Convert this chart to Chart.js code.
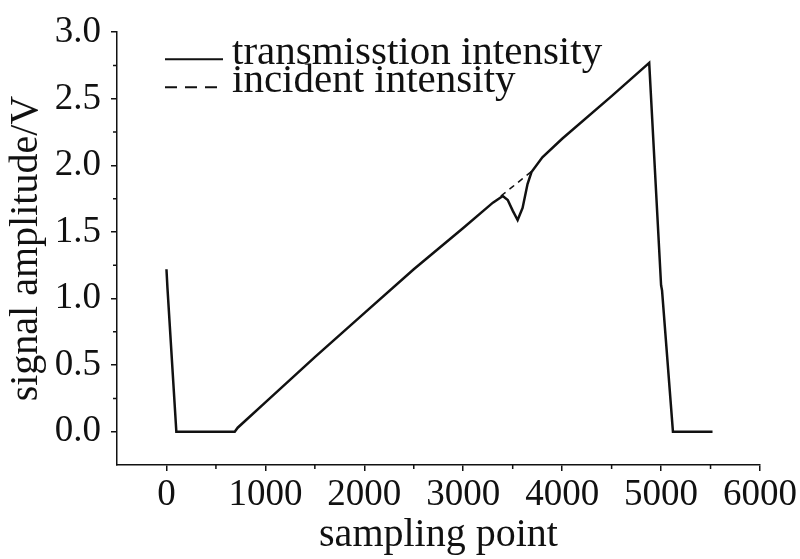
<!DOCTYPE html>
<html>
<head>
<meta charset="utf-8">
<script src="https://cdn.jsdelivr.net/npm/chart.js@4/dist/chart.umd.min.js"></script>
<style>
    html, body { margin: 0; padding: 0; background: #fff; }
    #caixa { width: 800px; height: 559px; }
</style>
</head>
<body>
<div id="caixa"><canvas id="grafico1"></canvas></div>
<script>
// transmission intensity (solid line)
const transX = [0, 10, 100, 690, 720, 1000, 1500, 2000, 2500, 3000, 3300, 3400, 3450, 3500, 3550, 3600, 3650, 3690, 3800, 4000, 4500, 4880, 5000, 5010, 5120, 5520];
const transY = [1.22, 1.08, 0, 0, 0.03, 0.22, 0.56, 0.89, 1.22, 1.53, 1.72, 1.77, 1.74, 1.66, 1.59, 1.68, 1.86, 1.95, 2.06, 2.20, 2.52, 2.77, 1.10, 1.06, 0, 0];
// incident intensity (dashed line, visible only where it departs from the solid one)
const incX = [3380, 3500, 3600, 3700];
const incY = [1.77, 1.84, 1.90, 1.96];

const seriesNames = ['transmisstion intensity', 'incident intensity'];
const xTicks = [0, 1000, 2000, 3000, 4000, 5000, 6000];
const yTicks = [0, 0.5, 1.0, 1.5, 2.0, 2.5, 3.0];
const xMinor = [500, 1500, 2500, 3500, 4500, 5500];
const yMinor = [0.25, 0.75, 1.25, 1.75, 2.25, 2.75];

const serif = "'Liberation Serif', 'Times New Roman', serif";
const ink = '#111';

function pares(xs, ys) {
    return xs.map((x, i) => ({ x: x, y: ys[i] }));
}

// minor ticks and the legend drawn inside the plot
const extras = {
    id: 'extras',
    afterDraw(chart) {
        const ctx = chart.ctx;
        const sx = chart.scales.x, sy = chart.scales.y;
        const area = chart.chartArea;
        ctx.save();
        ctx.strokeStyle = ink;
        ctx.lineWidth = 1.5;
        ctx.beginPath();
        xMinor.forEach(v => {
            const px = sx.getPixelForValue(v);
            ctx.moveTo(px, area.bottom);
            ctx.lineTo(px, area.bottom + 4);
        });
        yMinor.forEach(v => {
            const py = sy.getPixelForValue(v);
            ctx.moveTo(area.left, py);
            ctx.lineTo(area.left - 4, py);
        });
        ctx.stroke();

        // legend
        const x0 = area.left + 48, x1 = x0 + 58;
        const linhas = [area.top + 27, area.top + 55];
        chart.data.datasets.forEach((ds, i) => {
            ctx.strokeStyle = ds.borderColor;
            ctx.lineWidth = 2;
            ctx.setLineDash(i === 1 ? [12, 8] : []);
            ctx.beginPath();
            ctx.moveTo(x0, linhas[i]);
            ctx.lineTo(x1, linhas[i]);
            ctx.stroke();
            ctx.setLineDash([]);
            ctx.fillStyle = ink;
            ctx.font = '41px ' + serif;
            ctx.textBaseline = 'alphabetic';
            ctx.fillText(ds.label, x1 + 9, linhas[i] + 5);
        });
        ctx.restore();
    }
};

window.addEventListener('DOMContentLoaded', () => {
    const ctx = document.getElementById('grafico1').getContext('2d');

    new Chart(ctx, {
        type: 'line',
        data: {
            datasets: [{
                label: seriesNames[0],
                data: pares(transX, transY),
                borderColor: ink,
                borderWidth: 2.5,
                pointRadius: 0,
                tension: 0
            }, {
                label: seriesNames[1],
                data: pares(incX, incY),
                borderColor: ink,
                borderWidth: 1.5,
                borderDash: [6, 5],
                pointRadius: 0,
                tension: 0
            }]
        },
        options: {
            responsive: true,
            maintainAspectRatio: false,
            animation: false,
            layout: { padding: { top: 16, right: 40, left: 0, bottom: 0 } },
            plugins: {
                legend: { display: false },
                tooltip: { enabled: false }
            },
            scales: {
                x: {
                    type: 'linear',
                    min: -500,
                    max: 6000,
                    afterBuildTicks: s => { s.ticks = xTicks.map(v => ({ value: v })); },
                    afterFit: s => { s.height = 94; },
                    border: { color: ink, width: 1.5 },
                    grid: { drawOnChartArea: false, drawTicks: true, tickLength: 6, color: ink, lineWidth: 1.5 },
                    ticks: {
                        color: ink,
                        font: { family: serif, size: 37 },
                        padding: 2,
                        maxRotation: 0,
                        callback: v => String(v)
                    },
                    title: {
                        display: true,
                        text: 'sampling point',
                        color: ink,
                        font: { family: serif, size: 40 },
                        padding: { top: 4, bottom: 0 }
                    }
                },
                y: {
                    type: 'linear',
                    min: -0.25,
                    max: 3.0,
                    afterBuildTicks: s => { s.ticks = yTicks.map(v => ({ value: v })); },
                    afterFit: s => { s.width = 117; },
                    border: { color: ink, width: 1.5 },
                    grid: { drawOnChartArea: false, drawTicks: true, tickLength: 6, color: ink, lineWidth: 1.5 },
                    ticks: {
                        color: ink,
                        font: { family: serif, size: 37 },
                        padding: 10,
                        callback: v => v.toFixed(1)
                    },
                    title: {
                        display: true,
                        text: 'signal amplitude/V',
                        color: ink,
                        font: { family: serif, size: 40 },
                        padding: { top: 2, bottom: 0 }
                    }
                }
            }
        },
        plugins: [extras]
    });
});
</script>
</body>
</html>
